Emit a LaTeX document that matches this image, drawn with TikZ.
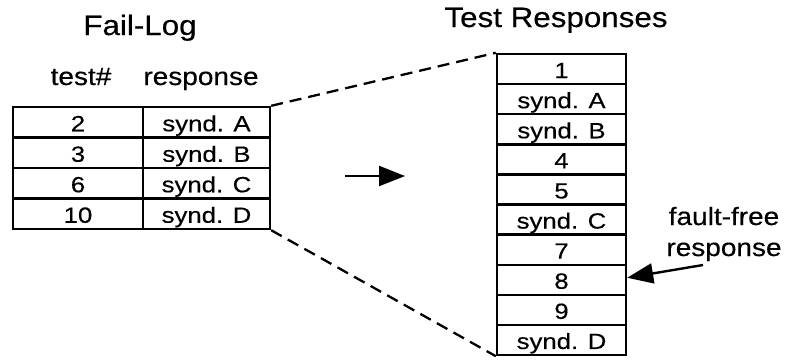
\documentclass[tikz,border=0pt]{standalone}
\usepackage{fontspec}
\setmainfont{Liberation Sans}
\newfontfamily\headfont[FakeStretch=1.12,FakeBold=0.4]{Liberation Sans}
\newfontfamily\cellfont[FakeStretch=1.17,FakeBold=0.4]{Liberation Sans}
\usetikzlibrary{arrows.meta}

\begin{document}
\begin{tikzpicture}[x=1pt,y=-1pt,
  heading/.style={font=\headfont\fontsize{28}{32}\selectfont, anchor=base, inner sep=0pt},
  colhead/.style={font=\headfont\fontsize{25}{30}\selectfont, anchor=base, inner sep=0pt},
  cell/.style={draw, line width=2.4pt, inner sep=0pt, text height=18pt, text depth=0pt,
    font=\cellfont\fontsize{22}{24}\selectfont},
  leftcell/.style={cell, minimum height=30.5pt},
  rightcell/.style={cell, minimum width=129pt, minimum height=30.1pt},
  zoomline/.style={line width=2.3pt, dash pattern=on 12pt off 7pt},
  bigarrow/.style={line width=2.4pt, -{Triangle[length=26pt,width=20pt]}}]

\useasboundingbox (0,0) rectangle (787,360);

% titles
\node[heading] (faillog) at (140,35) {Fail-Log};
\node[heading] (testresp) at (556,27) {Test Responses};

% column headings of the fail-log
\node[colhead] (hnum) at (81,85) {test\#};
\node[colhead] (hresp) at (201,85) {response};

% fail-log table
\node[leftcell, minimum width=130pt] (a1) at (78,122.25) {2};
\node[leftcell, minimum width=130pt] (a2) at (78,152.75) {3};
\node[leftcell, minimum width=130pt] (a3) at (78,183.25) {6};
\node[leftcell, minimum width=130pt] (a4) at (78,213.75) {10};
\node[leftcell, minimum width=127pt] (b1) at (206.5,122.25) {synd. A};
\node[leftcell, minimum width=127pt] (b2) at (206.5,152.75) {synd. B};
\node[leftcell, minimum width=127pt] (b3) at (206.5,183.25) {synd. C};
\node[leftcell, minimum width=127pt] (b4) at (206.5,213.75) {synd. D};

% full list of test responses
\foreach \i/\t in {1/1, 2/synd. A, 3/synd. B, 4/4, 5/5, 6/synd. C, 7/7, 8/8, 9/9, 10/synd. D}
  \node[rightcell] (r\i) at (561.5,{54+30.1*(\i-0.5)}) {\t};

% expansion lines
\draw[zoomline] (b1.north east) -- (r1.north west);
\draw[zoomline] (b4.south east) -- (r10.south west);

% arrow between the tables
\coordinate (mstart) at (345,176);
\coordinate (mend) at (405,176);
\draw[bigarrow] (mstart) -- (mend);

% fault-free response label and pointer
\node[colhead] (fflabel1) at (724,225) {fault-free};
\node[colhead] (fflabel2) at (724,256) {response};
\coordinate (ffstart) at (703,265);
\draw[bigarrow] (ffstart) -- ([yshift=2pt]r8.east);
\end{tikzpicture}
\end{document}
